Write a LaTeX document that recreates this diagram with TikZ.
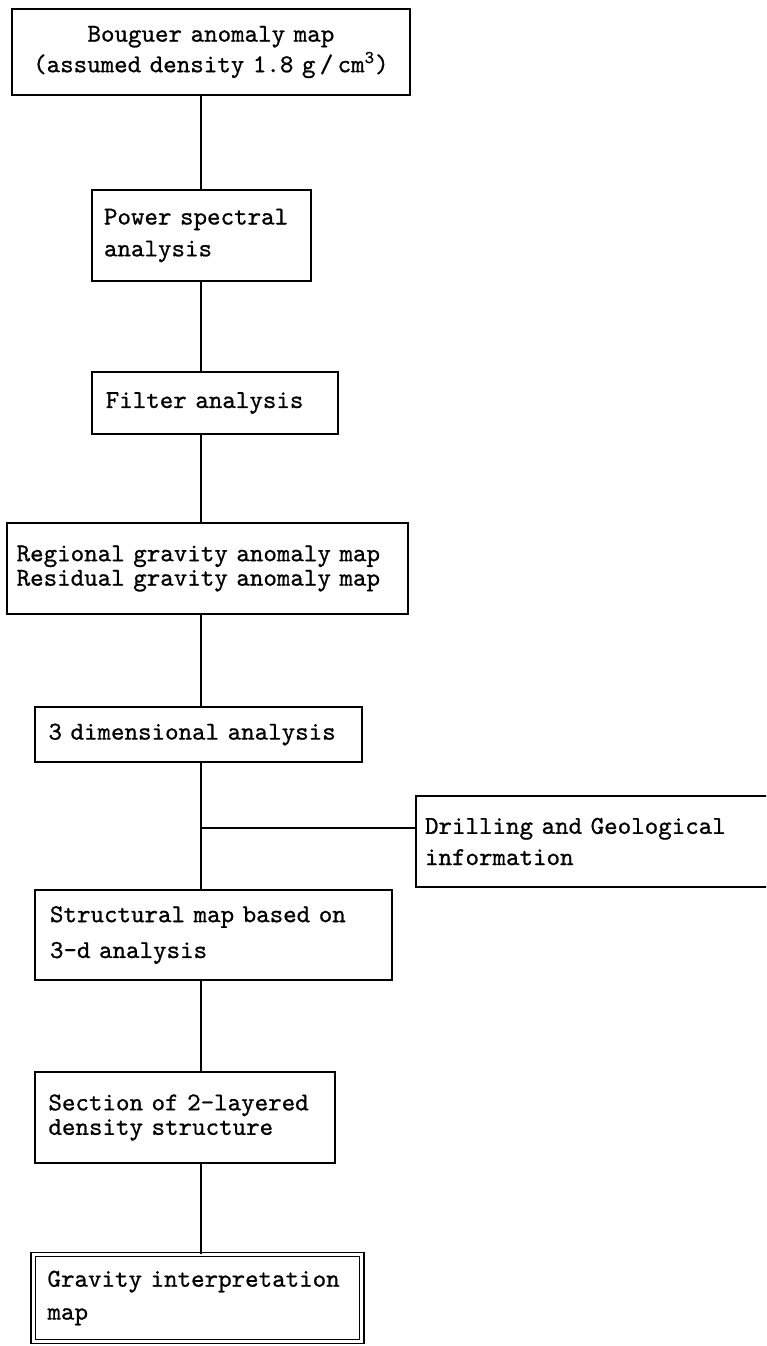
\documentclass[tikz,border=0pt]{standalone}
\usepackage{fontspec}
\newfontfamily\typewfont{lmmono10-regular}[Extension=.otf,FakeBold=0.8]
\usetikzlibrary{positioning}
\begin{document}
\begin{tikzpicture}[line width=0.75pt,
  blk/.style={draw,align=left,inner xsep=0.25cm,inner ysep=0pt,font=\typewfont\fontsize{12.2}{#1}\selectfont},
  blk/.default=14.2pt,
  link/.style={line width=0.75pt}]
\useasboundingbox (0,0) rectangle (12.767,-22.433);
\clip (0,0) rectangle (12.767,-22.433);
\coordinate (sp) at (3.35,0);
\node[blk=14.5pt,align=center,inner xsep=0.1cm,text width=6.43cm,minimum height=1.43cm] (bouguer) at (3.515,-0.867)
  {Bouguer anomaly map\\(assumed density 1.8 g\,/\,cm\textsuperscript{3})};
\node[blk=15.1pt,inner xsep=0.2cm,text width=3.25cm,minimum height=1.517cm] (power) at (3.358,-3.925)
  {Power spectral\\analysis};
\node[blk,inner xsep=0.23cm,text width=3.64cm,minimum height=1.033cm] (filter) at (3.583,-6.717)
  {Filter analysis};
\node[blk=11.6pt,inner xsep=0.16cm,text width=6.36cm,minimum height=1.517cm] (regres) at (3.458,-9.475)
  {Regional gravity anomaly map\\Residual gravity anomaly map};
\node[blk,inner xsep=0.225cm,text width=5.0cm,minimum height=0.917cm] (threed) at (3.308,-12.242)
  {3 dimensional analysis};
\node[blk=14.8pt,inner xsep=0.15cm,text width=5.767cm,minimum height=1.517cm] (drill) at (9.967,-14.025)
  {Drilling and Geological\\information};
\node[blk=17pt,text width=5.45cm,minimum height=1.5cm] (struct) at (3.558,-15.583)
  {Structural map based on\\3-d analysis};
\node[blk=11.6pt,inner xsep=0.225cm,text width=4.55cm,minimum height=1.517cm] (section) at (3.083,-18.625)
  {Section of 2-layered\\density structure};
\node[blk=15.6pt,double,double distance=1.3pt,inner xsep=0.235cm,text width=5.0cm,minimum height=1.45cm] (interp) at (3.292,-21.633)
  {Gravity interpretation\\map};
\foreach \a/\b in {bouguer/power,power/filter,filter/regres,regres/threed,threed/struct,struct/section,section/interp}
  \draw[link] (\a.south -| sp) -- (\b.north -| sp);
\coordinate (jn) at (3.35,-13.8);
\draw[link] (jn) -- (jn -| drill.west);
\end{tikzpicture}
\end{document}
